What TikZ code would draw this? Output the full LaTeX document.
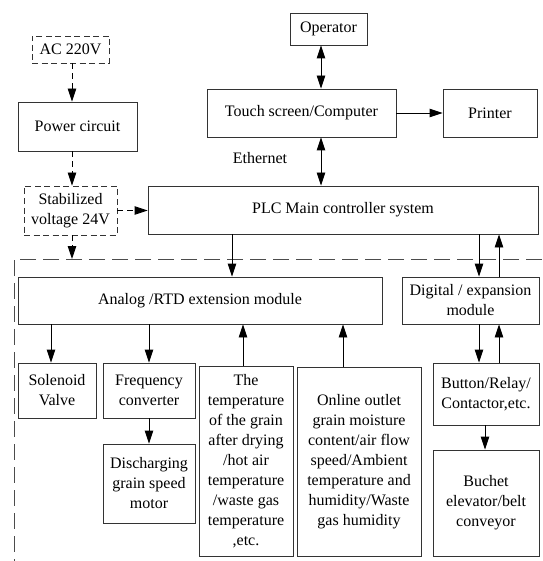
\documentclass[tikz,border=0pt]{standalone}
\usepackage{fontspec}
\setmainfont{Liberation Serif}
\usetikzlibrary{arrows.meta,calc}
\begin{document}
\begin{tikzpicture}[x=1pt,y=-1pt,
  box/.style={draw=black!80,line width=0.9pt,inner sep=0pt,align=center,
    font=\fontsize{16}{20}\selectfont},
  dbox/.style={box,dash pattern=on 6pt off 3.5pt},
  arr/.style={line width=0.9pt,-{Triangle[length=13pt,width=8.5pt]}},
  darr/.style={line width=0.9pt,{Triangle[length=13pt,width=8.5pt]}-{Triangle[length=13pt,width=8.5pt]}},
  dsharr/.style={arr,dash pattern=on 6pt off 4pt},
  frame/.style={draw=black!70,line width=0.9pt,dash pattern=on 16pt off 7pt}]
\useasboundingbox (0,0) rectangle (542,561);
% boxes
\node[dbox,minimum width=77pt,minimum height=27pt] (ac) at (70.5,49.5) {AC 220V};
\node[box,minimum width=119pt,minimum height=49pt] (power) at (77.5,126.5) {Power circuit};
\node[dbox,minimum width=93pt,minimum height=49pt] (stab) at (70.5,210.5) {Stabilized\\voltage 24V};
\node[box,minimum width=390pt,minimum height=48pt] (plc) at (343,210) {PLC Main controller system};
\node[box,minimum width=77pt,minimum height=32pt] (op) at (328.5,29) {Operator};
\node[box,minimum width=189pt,minimum height=48pt] (touch) at (301.5,113) {Touch screen/Computer};
\node[box,minimum width=94pt,minimum height=48pt] (printer) at (490,113) {Printer};
\node[box,minimum width=364pt,minimum height=47pt] (analog) at (200,300.5) {Analog /RTD extension module};
\node[box,minimum width=137pt,minimum height=47pt] (digital) at (470.5,300.5) {Digital / expansion\\module};
\node[box,minimum width=78pt,minimum height=55pt] (sol) at (57,390.5) {Solenoid\\Valve};
\node[box,minimum width=92pt,minimum height=55pt] (freq) at (149,390.5) {Frequency\\converter};
\node[box,minimum width=92pt,minimum height=79pt] (disch) at (149,483.5) {Discharging\\grain speed\\motor};
\node[box,minimum width=94pt,minimum height=190pt] (temp) at (246,461) {The\\temperature\\of the grain\\after drying\\/hot air\\temperature\\/waste gas\\temperature\\,etc.};
\node[box,minimum width=124pt,minimum height=189pt] (online) at (359,461.5) {Online outlet\\grain moisture\\content/air flow\\speed/Ambient\\temperature and\\humidity/Waste\\gas humidity};
\node[box,minimum width=106pt,minimum height=62pt] (button) at (486,394) {Button/Relay/\\Contactor,etc.};
\node[box,minimum width=106pt,minimum height=106pt] (buchet) at (486,503) {Buchet\\elevator/belt\\conveyor};
\node[font=\fontsize{16}{20}\selectfont,inner sep=0pt] (eth) at (260,158) {Ethernet};
% column coordinates
\coordinate (c72) at (72,0);
\coordinate (c51) at (51,0);
\coordinate (c232) at (232,0);
\coordinate (c243) at (243,0);
\coordinate (c343) at (343,0);
\coordinate (c321) at (321,0);
\coordinate (c479) at (479,0);
\coordinate (c499) at (499,0);
\coordinate (c485) at (485,0);
\coordinate (ftl) at (14,259);
\coordinate (ftr) at (542,259);
\coordinate (fbl) at (14,561);
% dashed frame
\draw[frame] (ftr) -- (ftl) -- (fbl);
% power path
\draw[dsharr] (ac.south -| c72) -- (power.north -| c72);
\draw[dsharr] (power.south -| c72) -- (stab.north -| c72);
\draw[dsharr] (stab.south -| c72) -- (ftl -| c72);
\draw[dsharr] (stab.east) -- (plc.west |- stab.east);
% top
\draw[darr] (op.south -| c321) -- (touch.north -| c321);
\draw[darr] (touch.south -| c321) -- (plc.north -| c321);
\draw[arr] (touch.east) -- (printer.west);
% plc to modules
\draw[arr] (plc.south -| c232) -- (analog.north -| c232);
\draw[arr] (plc.south -| c479) -- (digital.north -| c479);
\draw[arr] (digital.north -| c499) -- (plc.south -| c499);
% analog
\draw[arr] (analog.south -| c51) -- (sol.north -| c51);
\draw[arr] (analog.south -| freq.north) -- (freq.north);
\draw[arr] (freq.south) -- (disch.north);
\draw[arr] (temp.north -| c243) -- (analog.south -| c243);
\draw[arr] (online.north -| c343) -- (analog.south -| c343);
% digital
\draw[arr] (digital.south -| c479) -- (button.north -| c479);
\draw[arr] (button.north -| c499) -- (digital.south -| c499);
\draw[arr] (button.south -| c485) -- (buchet.north -| c485);
\end{tikzpicture}
\end{document}
